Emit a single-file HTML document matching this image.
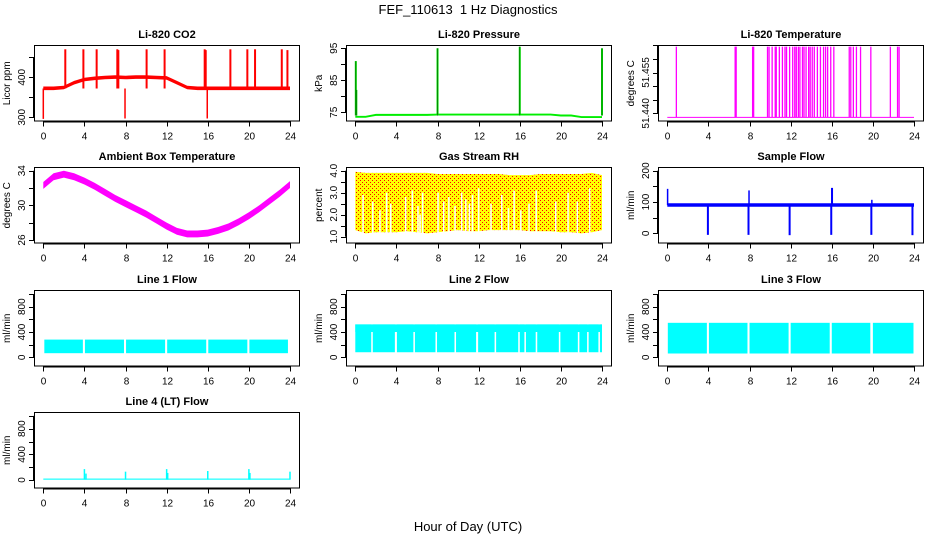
<!DOCTYPE html>
<html><head><meta charset="utf-8">
<style>
html,body{margin:0;padding:0;background:#fff;}
svg{display:block;font-family:"Liberation Sans",sans-serif;}
</style></head>
<body>
<svg id="chart" width="936" height="540" viewBox="0 0 936 540" xmlns="http://www.w3.org/2000/svg">
<defs>
<pattern id="rhpat" width="4" height="4" patternUnits="userSpaceOnUse">
<rect width="4" height="4" fill="#ffff00"/>
<rect x="0" y="0" width="1" height="1" fill="#ff0000"/>
<rect x="2" y="2" width="1" height="1" fill="#ff0000"/>
</pattern>
</defs>
<text x="468" y="14" text-anchor="middle" font-size="13">FEF_110613&#160; 1 Hz Diagnostics</text>
<text x="468" y="531" text-anchor="middle" font-size="13">Hour of Day (UTC)</text>
<g id="plots"></g>
</svg>
<script>
// ---- data ----
const xTicks = [0,4,8,12,16,20,24];
const hourGrid = [0,1,2,3,4,5,6,7,8,9,10,11,12,13,14,15,16,17,18,19,20,21,22,23,24];

const co2Base = [372,372,374,386,394,397,399,400,399,400,400,399,398,386,374,372,372,372,372,372,372,372,372,372,372];
const co2SpikeHours = [2.14,3.9,5.19,7.2,7.3,10.05,11.8,15.7,15.8,18.2,19.85,20.6,23.2,23.75];
const co2SpikeVals = [470,470,470,470,468,470,470,470,468,470,470,470,470,468];
const co2DipHours = [0,7.95,15.95];
const co2DipVals = [296,297,297];

const presBase = [73.6,73.6,74.2,74.2,74.2,74.2,74.2,74.2,74.3,74.3,74.3,74.3,74.3,74.3,74.3,74.3,74.3,74.3,74.3,74.3,74.0,74.0,73.5,73.5,73.5];
const presSpikeHours = [0.05,0.1,8.0,16.0,24.0];
const presSpikeVals = [91,82,95,95.5,95];

const tempBaseVal = 51.4385;
const tempSpikeHours = [0.88,6.6,6.7,8.3,8.4,9.75,9.9,10.2,10.5,10.6,10.9,11.2,11.45,11.6,11.9,12.2,12.4,12.55,12.75,12.9,13.15,13.3,13.5,13.75,13.9,14.1,14.3,14.6,14.9,15.2,15.4,15.6,15.9,16.2,17.7,17.85,18.1,18.4,18.8,19.8,21.7,22.4,22.55];
const tempSpikeVals = new Array(tempSpikeHours.length).fill(51.4645);

const ambCenter = [32.3,33.3,33.6,33.3,32.8,32.2,31.5,30.8,30.2,29.6,29.0,28.3,27.6,27.0,26.7,26.7,26.8,27.1,27.5,28.1,28.8,29.6,30.5,31.4,32.4];
const ambHalfWidth = 0.4;

const rhTop = [3.95,3.9,3.9,3.9,3.9,3.9,3.9,3.9,3.85,3.85,3.85,3.85,3.85,3.85,3.85,3.8,3.8,3.8,3.85,3.85,3.85,3.85,3.85,3.9,3.8];
const rhLow = [1.3,1.15,1.2,1.2,1.2,1.25,1.2,1.15,1.2,1.25,1.3,1.25,1.25,1.3,1.3,1.3,1.3,1.25,1.25,1.25,1.2,1.2,1.15,1.2,1.3];
const rhGapHours = [0.75,1.7,2.4,3.05,3.45,4.9,5.55,6.1,6.3,6.55,8.05,8.6,9.1,9.7,10.35,10.75,11.1,11.4,12.0,13.2,14.25,14.9,15.45,16.1,16.9,17.6,19.5,20.7,21.6,22.8];
const rhGapTops = [2.9,2.6,2.2,3.0,2.5,2.8,3.1,2.4,2.0,3.0,3.0,2.6,2.8,2.4,3.0,2.7,2.5,2.9,3.2,2.5,2.9,2.3,3.1,2.2,2.5,3.1,2.6,3.0,2.6,3.2];

const sampLow = 85, sampHigh = 96;
const sampSpikeHours = [0.03,7.95,16.0,16.05,19.9];
const sampSpikeVals = [142,137,145,145,107];
const sampDipHours = [3.95,7.9,11.9,15.95,19.85,23.85];
const sampDipVals = [-5,-5,-6,-5,-5,-6];

const line1Seg = [[0.1,3.85],[4.05,7.85],[8.05,11.85],[12.05,15.85],[16.05,19.85],[20.05,23.8]];
const line1Low = 65, line1High = 280;
const line2Seg = [[0,1.55],[1.7,3.85],[4.05,5.65],[5.8,7.8],[7.95,9.65],[9.8,11.75],[11.95,13.55],[13.7,15.85],[16.0,16.45],[16.6,17.55],[17.7,19.8],[19.95,21.65],[21.8,22.55],[22.7,23.65],[23.8,24.0]];
const line2Low = 80, line2High = 520, line2Mid = 400;
const line3Seg = [[0.05,3.85],[4.05,7.8],[8.0,11.8],[12.0,15.8],[16.0,19.75],[20.0,23.95]];
const line3Low = 60, line3High = 545;
const line4Low = 5, line4High = 22;
const line4SpikeHours = [4.0,4.15,8.0,12.0,12.1,16.0,20.0,20.1,24.0];
const line4SpikeVals = [170,100,130,170,110,140,170,110,130];

// ---- layout helpers ----
const NS = 'http://www.w3.org/2000/svg';
const root = document.getElementById('plots');
const rowTop = [45,167,290,412];
const boxH = 76.5, boxW = 266;
function mk(tag, attrs, parent){ const e=document.createElementNS(NS,tag); for(const k in attrs) e.setAttribute(k,attrs[k]); (parent||root).appendChild(e); return e; }

function makePanel(col,row,title,ylab,v1,o1,v2,o2,yTicks,yLabels,name){
  const left = 34+312*col, top = rowTop[row];
  const g = mk('g',{});
  
  
  const p = {g,left,top};
  p.x = h => left + 9.3 + h*(246.7/24);
  p.y = v => top + o1 + (v-v1)*(o2-o1)/(v2-v1);
  const clip = mk('clipPath',{id:'clip-'+name},g);
  mk('rect',{x:left,y:top,width:boxW,height:boxH},clip);
  p.plot = mk('g',{'clip-path':'url(#clip-'+name+')'},g);
  
  
  const t = mk('text',{x:left+boxW/2,y:top-7,'text-anchor':'middle','font-size':'11','font-weight':'bold'},g);
  t.textContent = title;
  
  
  const yl = mk('text',{x:0,y:0,'text-anchor':'middle','font-size':'10',transform:`translate(${left-24},${top+boxH/2}) rotate(-90)`},g);
  yl.textContent = ylab;
  
  
  const xa = mk('g',{},g);
  
  
  mk('line',{x1:p.x(0),x2:p.x(24),y1:top+boxH+0.5,y2:top+boxH+0.5,stroke:'#000'},xa);
  xTicks.forEach(h=>{
    const X = Math.round(p.x(h))+0.5;
    mk('line',{x1:X,x2:X,y1:top+boxH,y2:top+boxH+5,stroke:'#000'},xa);
    const tl = mk('text',{x:X,y:top+boxH+18,'text-anchor':'middle','font-size':'10'},xa);
    tl.textContent = h;
  });
  const ya = mk('g',{},g);
  
  
  mk('line',{x1:left-0.5,x2:left-0.5,y1:p.y(yTicks[0]),y2:p.y(yTicks[yTicks.length-1]),stroke:'#000'},ya);
  yTicks.forEach(v=>{
    const Y = Math.round(p.y(v))+0.5;
    mk('line',{x1:left-5,x2:left,y1:Y,y2:Y,stroke:'#000'},ya);
  });
  yLabels.forEach(v=>{
    const Y = p.y(Number(v));
    const tl = mk('text',{x:0,y:0,'text-anchor':'middle','font-size':'10',transform:`translate(${left-9},${Y}) rotate(-90)`},ya);
    tl.textContent = v;
  });
  mk('rect',{x:left+0.5,y:top+0.5,width:boxW-1,height:boxH-1,fill:'none',stroke:'#000'},g);
  return p;
}
function band(p,hours,lo,hi,fill){
  let d='M'+hours.map((h,i)=>p.x(h)+','+p.y(hi[i])).join('L');
  for(let i=hours.length-1;i>=0;i--) d+='L'+p.x(hours[i])+','+p.y(lo[i]);
  const e = mk('path',{d:d+'Z',fill:fill},p.plot);
  
  
}
function spikes(p,hours,from,to,color,w,dash){
  hours.forEach((h,i)=>{
    const a = {x1:p.x(h),x2:p.x(h),y1:p.y(Array.isArray(from)?from[i]:from),y2:p.y(to[i]),stroke:color,'stroke-width':w||1.5};
    if(dash) a['stroke-dasharray']=dash;
    const e = mk('line',a,p.plot);
    
    
  });
}
function segs(p,list,lo,hi,fill){
  list.forEach(s=>{
    const e = mk('rect',{x:p.x(s[0]),y:p.y(hi),width:p.x(s[1])-p.x(s[0]),height:p.y(lo)-p.y(hi),fill:fill},p.plot);
    
    
  });
}

// ---- panels ----
const co2 = makePanel(0,0,'Li-820 CO2','Licor ppm',300,72.3,450,12.3,[300,350,400,450],['300','400'],'co2');
band(co2,hourGrid,co2Base.map(v=>v-4),co2Base.map(v=>v+5),'#ff0000');
spikes(co2,co2SpikeHours,co2Base[0],co2SpikeVals,'#ff0000',2);
spikes(co2,co2DipHours,co2Base[0],co2DipVals,'#ff0000',1.5);

const pres = makePanel(1,0,'Li-820 Pressure','kPa',75,67.3,95,3.3,[75,80,85,90,95],['75','85','95'],'pressure');
band(pres,hourGrid,presBase.map(v=>v-0.3),presBase.map(v=>v+0.3),'#00ee00');
spikes(pres,presSpikeHours,74,presSpikeVals,'#00dd00',2);
spikes(pres,presSpikeHours,74,presSpikeVals,'#000',0.7,'1,1');

const temp = makePanel(2,0,'Li-820 Temperature','degrees C',51.44,68.3,51.465,0.3,[51.44,51.445,51.45,51.455,51.46,51.465],['51.440','51.455'],'temperature');
band(temp,[0,24],[tempBaseVal-0.0002,tempBaseVal-0.0002],[tempBaseVal+0.0002,tempBaseVal+0.0002],'#ff00ff');
spikes(temp,tempSpikeHours,tempBaseVal,tempSpikeVals,'#ff00ff',1.3);

const amb = makePanel(0,1,'Ambient Box Temperature','degrees C',26,73,34,3.7,[26,28,30,32,34],['26','30','34'],'ambient-temp');
band(amb,hourGrid,ambCenter.map(v=>v-ambHalfWidth),ambCenter.map(v=>v+ambHalfWidth),'#ff00ff');

const rh = makePanel(1,1,'Gas Stream RH','percent',1.0,69.7,4.0,3.7,[1,1.5,2,2.5,3,3.5,4],['1.0','2.0','3.0','4.0'],'gas-rh');
band(rh,hourGrid,rhLow,rhTop,'url(#rhpat)');
spikes(rh,rhGapHours,rhLow[0]-0.2,rhGapTops,'#ffffff',1.5);

const samp = makePanel(2,1,'Sample Flow','ml/min',0,66.3,200,3.7,[0,50,100,150,200],['0','100','200'],'sample-flow');
band(samp,[0,24],[sampLow,sampLow],[sampHigh,sampHigh],'#0000ff');
spikes(samp,sampSpikeHours,90,sampSpikeVals,'#0000ff',1.5);
spikes(samp,sampDipHours,90,sampDipVals,'#0000ff',2);

const l1 = makePanel(0,2,'Line 1 Flow','ml/min',0,67.3,800,16.7,[0,200,400,600,800,1000],['0','400','800'],'line1-flow');
segs(l1,line1Seg,line1Low,line1High,'#00ffff');
const l2 = makePanel(1,2,'Line 2 Flow','ml/min',0,67.3,800,16.7,[0,200,400,600,800,1000],['0','400','800'],'line2-flow');
segs(l2,line2Seg,line2Low,line2High,'#00ffff');
segs(l2,[[0,24]],line2Mid,line2High,'#00ffff');
const l3 = makePanel(2,2,'Line 3 Flow','ml/min',0,67.3,800,16.7,[0,200,400,600,800,1000],['0','400','800'],'line3-flow');
segs(l3,line3Seg,line3Low,line3High,'#00ffff');
const l4 = makePanel(0,3,'Line 4 (LT) Flow','ml/min',0,68,800,16.7,[0,200,400,600,800,1000],['0','400','800'],'line4-flow');
segs(l4,[[0,24]],line4Low,line4High,'#00ffff');
spikes(l4,line4SpikeHours,line4Low,line4SpikeVals,'#00ffff',1.5);
</script>
</body></html>
